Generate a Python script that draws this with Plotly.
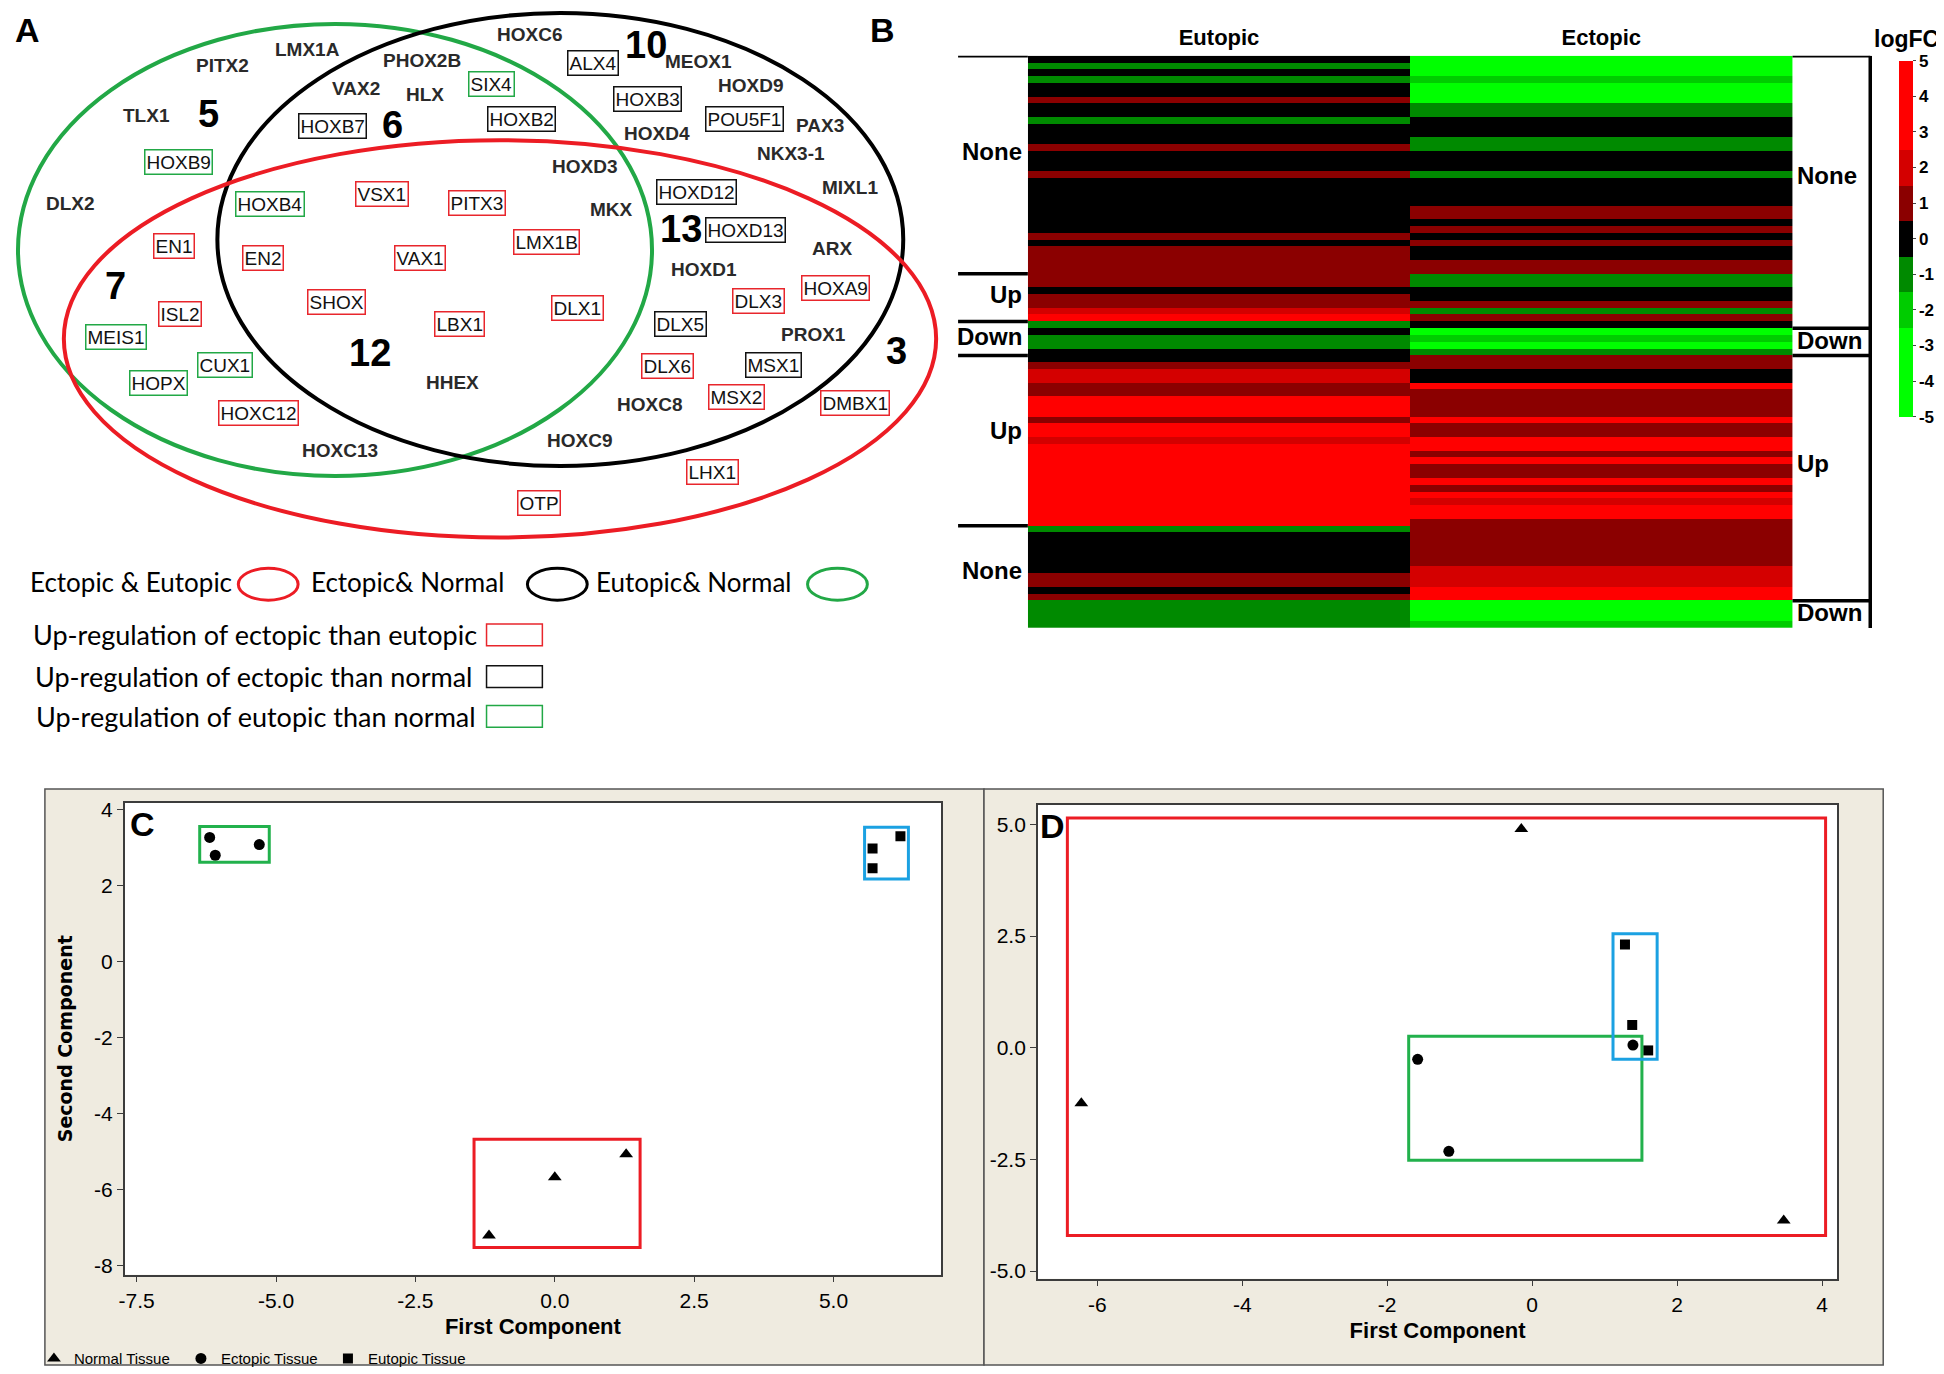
import plotly.graph_objects as go

# target picture is 1944x1374; the page body keeps an 8px margin, so every
# pixel position of the target is shifted by 8px into figure coordinates
W, H = 1944, 1374
OFF = 8
ARIAL = "Liberation Sans, Arial, sans-serif"
CAL = "Lato, Carlito, Calibri, sans-serif"


def px(x):
    return (x - OFF) / W


def py(y):
    return 1 - (y - OFF) / H


# ---------------- panel A : Venn data ----------------
venn_genes = ["LMX1A", "PITX2", "PHOX2B", "VAX2", "HLX", "TLX1", "HOXB7", "HOXB9", "DLX2",
              "HOXB4", "VSX1", "PITX3", "EN1", "EN2", "VAX1", "HOXC6", "ALX4", "MEOX1", "SIX4",
              "HOXD9", "HOXB3", "HOXB2", "POU5F1", "PAX3", "HOXD4", "NKX3-1", "HOXD3", "MIXL1",
              "HOXD12", "MKX", "LMX1B", "HOXD13", "ARX", "HOXD1", "ISL2", "MEIS1", "SHOX", "LBX1",
              "CUX1", "HOPX", "HHEX", "HOXC12", "HOXC13", "HOXA9", "DLX1", "DLX3", "DLX5", "PROX1",
              "DLX6", "MSX1", "HOXC8", "MSX2", "DMBX1", "HOXC9", "LHX1", "OTP"]
# up-regulation mark: ee = ectopic>eutopic, en = ectopic>normal, un = eutopic>normal
venn_marks = ["", "", "", "", "", "", "en", "un", "",
              "un", "ee", "ee", "ee", "ee", "ee", "", "en", "", "un",
              "", "en", "en", "en", "", "", "", "", "",
              "en", "", "ee", "en", "", "", "ee", "un", "ee", "ee",
              "un", "un", "", "ee", "", "ee", "ee", "ee", "en", "",
              "ee", "en", "", "ee", "ee", "", "ee", "ee"]
venn_counts = ["5", "6", "10", "13", "7", "12", "3"]

# ---------------- panel B : heatmap data ----------------
heat_cols = ["Eutopic", "Ectopic"]
eutopic_fc = [0, -1, 0, -1, 0, 0, 1, 0, 0, -1,
              0, 0, 0, 1, 0, 0, 0, 1, 0, 0,
              0, 0, 0, 0, 0, 0, 1, 0, 1, 1,
              1, 1, 1, 1, 0, 1, 1, 2, 3, -1,
              0, -1, -1, 0, 0, 1, 2, 2, 1, 1,
              3, 3, 3, 1, 3, 3, 2, 3, 3, 3,
              3, 3, 3, 3, 3, 3, 3, 3, 3, -1,
              0, 0, 0, 0, 0, 0, 1, 1, 0, 1,
              -1, -1, -1, -1]
ectopic_fc = [-3, -3, -3, -2, -3, -3, -3, -1, -1, 0,
              0, 0, -1, -1, 0, 0, 0, -1, 0, 0,
              0, 0, 1, 1, 0, 1, 0, 1, 0, 0,
              1, 1, -1, -1, 0, 0, 1, -1, 1, 0,
              -3, -2, -3, -1, 1, 1, 0, 0, 3, 1,
              1, 1, 1, 3, 1, 1, 3, 3, 1, 3,
              1, 1, 3, 1, 3, 2, 3, 3, 1, 1,
              1, 1, 1, 1, 1, 2, 2, 2, 3, 3,
              -3, -3, -3, -2]
left_groups = ["None", "Up", "Down", "Up", "None"]
left_bounds = [0, 32, 39, 44, 69, 84]
right_groups = ["None", "Down", "Up", "Down"]
right_bounds = [0, 40, 44, 80, 84]
cbar_ticks = [5, 4, 3, 2, 1, 0, -1, -2, -3, -4, -5]

# ---------------- panels C and D : PCA scores ----------------
tissues = ["Normal Tissue", "Ectopic Tissue", "Eutopic Tissue"]
c_x = {"Normal Tissue": [-1.18, 0.00, 1.28],
       "Ectopic Tissue": [-6.19, -6.09, -5.30],
       "Eutopic Tissue": [6.20, 5.70, 5.70]}
c_y = {"Normal Tissue": [-7.20, -5.67, -5.06],
       "Ectopic Tissue": [3.27, 2.80, 3.08],
       "Eutopic Tissue": [3.30, 2.98, 2.46]}
d_x = {"Normal Tissue": [-0.15, -6.22, 3.47],
       "Ectopic Tissue": [-1.58, -1.15, 1.39],
       "Eutopic Tissue": [1.28, 1.38, 1.60]}
d_y = {"Normal Tissue": [4.90, -1.24, -3.87],
       "Ectopic Tissue": [-0.26, -2.32, 0.06],
       "Eutopic Tissue": [2.31, 0.51, -0.06]}
c_xticks = [-7.5, -5.0, -2.5, 0.0, 2.5, 5.0]
c_yticks = [4, 2, 0, -2, -4, -6, -8]
d_xticks = [-6, -4, -2, 0, 2, 4]
d_yticks = [5.0, 2.5, 0.0, -2.5, -5.0]

fig = go.Figure()


def note(x, y, text, **kw):
    kw.setdefault("xanchor", "center")
    kw.setdefault("yanchor", "middle")
    fig.add_annotation(x=px(x), y=py(y), xref="paper", yref="paper", text=text, showarrow=False, **kw)


# ======== A: Venn ========
mark_col = {"ee": "#e8262c", "en": "#111111", "un": "#22a846"}
gene_pos = [(302, 45), (217, 61), (417, 56), (351, 84), (420, 90), (141, 111), (327, 122), (173, 158), (65, 200),
            (265, 200), (377, 190), (472, 199), (168, 243), (258, 255), (415, 255), (525, 30), (589, 58), (695, 57), (487, 79),
            (747, 81), (643, 95), (517, 115), (741, 115), (816, 121), (653, 129), (787, 149), (580, 163), (847, 184),
            (693, 188), (607, 206), (542, 239), (742, 226), (829, 245), (700, 266), (175, 311), (110, 334), (331, 299), (455, 321),
            (220, 362), (153, 380), (448, 380), (253, 411), (335, 448), (832, 285), (573, 305), (755, 298), (677, 321), (810, 332),
            (664, 363), (770, 362), (645, 402), (733, 395), (852, 401), (575, 438), (709, 470), (535, 501)]
count_pos = [(203, 110), (388, 121), (642, 40), (677, 225), (110, 283), (365, 350), (893, 348)]

ellipses = [((12, 19, 648, 474), "#22a846"), ((212, 8, 900, 464), "#000000"), ((58, 136, 933, 536), "#ec1c24")]
for (x0, y0, x1, y1), col in ellipses:
    fig.add_shape(type="circle", xref="paper", yref="paper", x0=px(x0), x1=px(x1), y0=py(y1), y1=py(y0),
                  line=dict(color=col, width=4))

for g, m, (x, y) in zip(venn_genes, venn_marks, gene_pos):
    if m:
        note(x, y, g, font=dict(family=ARIAL, size=19, color="#111111"),
             bordercolor=mark_col[m], borderwidth=1.5, borderpad=1)
    else:
        note(x, y, "<b>%s</b>" % g, font=dict(family=ARIAL, size=19, color="#2a2a2a"))

for n, (x, y) in zip(venn_counts, count_pos):
    note(x, y, "<b>%s</b>" % n, font=dict(family=ARIAL, size=38, color="black"))

for lab, (x, y) in [("A", (22, 25)), ("B", (879, 25))]:
    note(x, y, "<b>%s</b>" % lab, font=dict(family=ARIAL, size=34, color="black"))

# Venn legend
leg1 = [("Ectopic & Eutopic", 22, (263, "#ec1c24")), ("Ectopic& Normal", 304, (553, "#000000")),
        ("Eutopic& Normal", 590, (834, "#22a846"))]
for txt, x, (ex, ecol) in leg1:
    note(x, 581, txt, xanchor="left", font=dict(family=CAL, size=26, color="black"))
    fig.add_shape(type="circle", xref="paper", yref="paper", x0=px(ex - 30), x1=px(ex + 30),
                  y0=py(583 + 16), y1=py(583 - 16), line=dict(color=ecol, width=3))
leg2 = [("Up-regulation of ectopic than eutopic", 25, 634, "ee"),
        ("Up-regulation of ectopic than normal", 27, 676, "en"),
        ("Up-regulation of eutopic than normal", 28, 716, "un")]
for txt, x, y, m in leg2:
    note(x, y, txt, xanchor="left", font=dict(family=CAL, size=27, color="black"))
    fig.add_shape(type="rect", xref="paper", yref="paper", x0=px(482), x1=px(538),
                  y0=py(y + 11), y1=py(y - 11), line=dict(color=mark_col[m], width=1.5))

# ======== B: heatmap ========
rows = list(range(len(eutopic_fc)))
z = [[e, c] for e, c in zip(eutopic_fc, ectopic_fc)]
scale = [[0.0, "#00ff00"], [0.25, "#00ff00"], [0.25, "#00cc00"], [0.35, "#00cc00"],
         [0.35, "#008a00"], [0.45, "#008a00"], [0.45, "#000000"], [0.55, "#000000"],
         [0.55, "#8b0000"], [0.65, "#8b0000"], [0.65, "#d40000"], [0.75, "#d40000"],
         [0.75, "#ff0000"], [1.0, "#ff0000"]]
fig.add_trace(go.Heatmap(
    x=heat_cols, y=rows, z=z, zmin=-5, zmax=5, colorscale=scale, showlegend=False,
    colorbar=dict(x=px(1899), xanchor="left", xpad=0, y=py(56), yanchor="top", ypad=0,
                  len=358 / H, lenmode="fraction", thickness=14, outlinewidth=0,
                  tickvals=cbar_ticks, ticktext=[str(v) for v in cbar_ticks],
                  ticks="outside", ticklen=3, tickcolor="#444",
                  tickfont=dict(family=ARIAL, size=17, color="black", weight="bold")),
    xaxis="x", yaxis="y"))

# group labels sit a little above the middle of their bracket
LABEL_AT = 0.44
for i, g in enumerate(left_groups):
    b0, b1 = left_bounds[i], left_bounds[i + 1]
    fig.add_shape(type="line", xref="paper", yref="y", x0=px(955), x1=px(1025),
                  y0=b0 - 0.5, y1=b0 - 0.5, line=dict(color="black", width=3.5))
    fig.add_annotation(x=px(1021), y=b0 + LABEL_AT * (b1 - b0) - 0.5, xref="paper", yref="y",
                       text="<b>%s</b>" % g, showarrow=False, xanchor="right", yanchor="middle",
                       font=dict(family=ARIAL, size=24, color="black"))
for i, g in enumerate(right_groups):
    b0, b1 = right_bounds[i], right_bounds[i + 1]
    fig.add_shape(type="line", xref="paper", yref="y", x0=px(1792), x1=px(1870),
                  y0=b0 - 0.5, y1=b0 - 0.5, line=dict(color="black", width=3.5))
    fig.add_annotation(x=px(1795), y=b0 + LABEL_AT * (b1 - b0) - 0.5, xref="paper", yref="y",
                       text="<b>%s</b>" % g, showarrow=False, xanchor="left", yanchor="middle",
                       font=dict(family=ARIAL, size=24, color="black"))
fig.add_shape(type="line", xref="paper", yref="y", x0=px(1870), x1=px(1870), y0=-0.5,
              y1=right_bounds[-1] - 0.5, line=dict(color="black", width=3.5))
note(1906, 34, "<b>logFC</b>", font=dict(family=ARIAL, size=23, color="black"))

# ======== C and D: PCA ========
beige = "#efebe0"
for x0, x1 in [(39, 981), (981, 1883)]:
    fig.add_shape(type="rect", xref="paper", yref="paper", x0=px(x0), x1=px(x1), y0=py(1369), y1=py(789),
                  fillcolor=beige, line=dict(color="#555555", width=1.5), layer="below")

panels = [
    dict(ax="2", xs=c_x, ys=c_y, dom=(119, 938, 803, 1278), xr=[-7.715, 6.93], yr=[-8.23, 4.18],
         xt=c_xticks, xtt=["%.1f" % v for v in c_xticks], yt=c_yticks, ytt=["%d" % v for v in c_yticks],
         ytitle="<b>Second Component</b>", label="C", lab_pos=(137, 824),
         pads={"Normal Tissue": (15, 14, 12, 15), "Ectopic Tissue": (10, 10, 7, 11), "Eutopic Tissue": (8, 8, 11, 9)}),
    dict(ax="3", xs=d_x, ys=d_y, dom=(1035, 1837, 805, 1282), xr=[-6.82, 4.21], yr=[-5.17, 5.44],
         xt=d_xticks, xtt=["%d" % v for v in d_xticks], yt=d_yticks, ytt=["%.1f" % v for v in d_yticks],
         ytitle=None, label="D", lab_pos=(1050, 826),
         pads={"Normal Tissue": (14, 42, 15, 11), "Ectopic Tissue": (9, 9, 9, 9), "Eutopic Tissue": (12, 9, 9, 11)}),
]
symbols = {"Normal Tissue": "triangle-up", "Ectopic Tissue": "circle", "Eutopic Tissue": "square"}
sizes = {"Normal Tissue": 12, "Ectopic Tissue": 11, "Eutopic Tissue": 10}
box_col = {"Normal Tissue": "#ec1c24", "Ectopic Tissue": "#22b14c", "Eutopic Tissue": "#1ba1e2"}

axis_font = dict(family=ARIAL, size=21, color="black")
for k, p in enumerate(panels):
    x0, x1, y0, y1 = p["dom"]
    fig.add_shape(type="rect", xref="paper", yref="paper", x0=px(x0), x1=px(x1), y0=py(y1), y1=py(y0),
                  fillcolor="white", line=dict(width=0), layer="below")
    kx = (p["xr"][1] - p["xr"][0]) / (x1 - x0)
    ky = (p["yr"][1] - p["yr"][0]) / (y1 - y0)
    for t in tissues:
        xs, ys = p["xs"][t], p["ys"][t]
        fig.add_trace(go.Scatter(x=xs, y=ys, mode="markers", name=t, legendgroup=t, showlegend=(k == 0),
                                 marker=dict(symbol=symbols[t], size=sizes[t], color="black"),
                                 xaxis="x" + p["ax"], yaxis="y" + p["ax"]))
        l, r, b, tp = p["pads"][t]
        fig.add_shape(type="rect", xref="x" + p["ax"], yref="y" + p["ax"],
                      x0=min(xs) - l * kx, x1=max(xs) + r * kx, y0=min(ys) - b * ky, y1=max(ys) + tp * ky,
                      line=dict(color=box_col[t], width=3))
    common = dict(showline=True, mirror=True, linecolor="#3c3c3c", linewidth=1.5, ticks="outside",
                  ticklen=6, tickcolor="#3c3c3c", showgrid=False, zeroline=False, tickfont=axis_font)
    fig.update_layout(**{
        "xaxis" + p["ax"]: dict(domain=[px(x0), px(x1)], anchor="y" + p["ax"], range=p["xr"],
                                tickvals=p["xt"], ticktext=p["xtt"],
                                title=dict(text="<b>First Component</b>", standoff=8,
                                           font=dict(family=ARIAL, size=22, color="black")), **common),
        "yaxis" + p["ax"]: dict(domain=[py(y1), py(y0)], anchor="x" + p["ax"], range=p["yr"],
                                tickvals=p["yt"], ticktext=p["ytt"],
                                title=dict(text=p["ytitle"], standoff=16,
                                           font=dict(family="DejaVu Sans, sans-serif", size=19, color="black")),
                                **common),
    })
    lx, ly = p["lab_pos"]
    note(lx, ly, "<b>%s</b>" % p["label"], font=dict(family=ARIAL, size=34, color="black"))

fig.update_layout(
    width=W, height=H, margin=dict(l=0, r=0, t=0, b=0),
    paper_bgcolor="white", plot_bgcolor="white",
    xaxis=dict(domain=[px(1025), px(1792)], anchor="y", side="top", showgrid=False, zeroline=False,
               showline=False, ticks="", ticklabelstandoff=5,
               tickfont=dict(family=ARIAL, size=22, color="black", weight="bold")),
    yaxis=dict(domain=[py(627), py(51)], anchor="x", range=[len(rows) - 0.5, -0.5], visible=False),
    legend=dict(orientation="h", x=px(28), xanchor="left", y=py(1346), yanchor="top",
                font=dict(family=ARIAL, size=15, color="black"), bgcolor="rgba(0,0,0,0)",
                itemwidth=30, entrywidth=102, tracegroupgap=0),
)

fig.write_html("out.html")
